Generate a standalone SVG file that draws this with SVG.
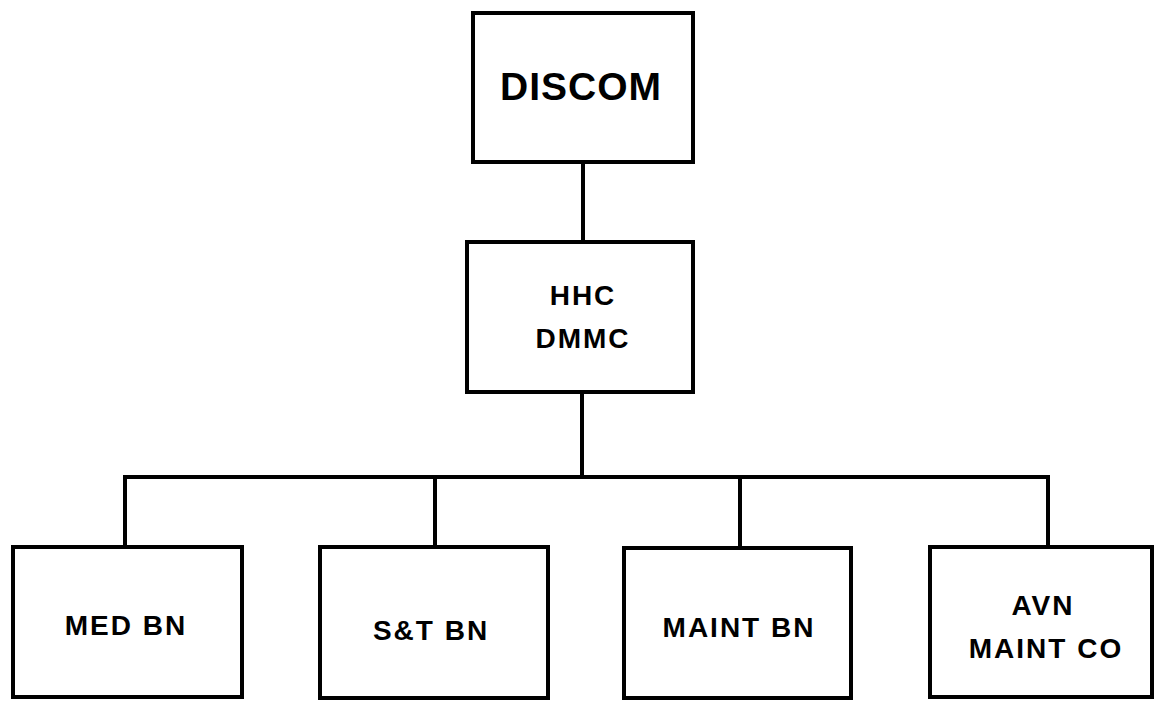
<svg xmlns="http://www.w3.org/2000/svg" width="1154" height="703" viewBox="0 0 1154 703">
<style>
.box{fill:#fff;stroke:#000;stroke-width:4}
.ln{stroke:#000;stroke-width:4;fill:none}
text{font-family:"Liberation Sans",Arial,sans-serif;font-weight:bold;fill:#000;text-anchor:middle}
.s{font-size:28px;letter-spacing:2px}
.l{font-size:39px;letter-spacing:1px}
</style>
<rect width="1154" height="703" fill="#fff"/>
<g id="connectors">
<line class="ln" x1="583" y1="162" x2="583" y2="242"/>
<line class="ln" x1="582" y1="392" x2="582" y2="477"/>
<polyline class="ln" points="125,547 125,477 1048,477 1048,547"/>
<line class="ln" x1="435" y1="477" x2="435" y2="547"/>
<line class="ln" x1="740" y1="477" x2="740" y2="548"/>
</g>
<g id="discom">
<rect class="box" x="473" y="13" width="220" height="149"/>
<text class="l" x="581" y="100">DISCOM</text>
</g>
<g id="hhc">
<rect class="box" x="467" y="242" width="226" height="150"/>
<text class="s" x="583" y="305">HHC</text>
<text class="s" x="583" y="348">DMMC</text>
</g>
<g id="med">
<rect class="box" x="13" y="547" width="229" height="150"/>
<text class="s" x="126" y="635">MED BN</text>
</g>
<g id="st">
<rect class="box" x="320" y="547" width="228" height="151"/>
<text class="s" x="431" y="640">S&amp;T BN</text>
</g>
<g id="maint">
<rect class="box" x="624" y="548" width="227" height="150"/>
<text class="s" x="739" y="637">MAINT BN</text>
</g>
<g id="avn">
<rect class="box" x="930" y="547" width="222" height="150"/>
<text class="s" x="1043" y="615">AVN</text>
<text class="s" x="1046" y="658">MAINT CO</text>
</g>
</svg>
